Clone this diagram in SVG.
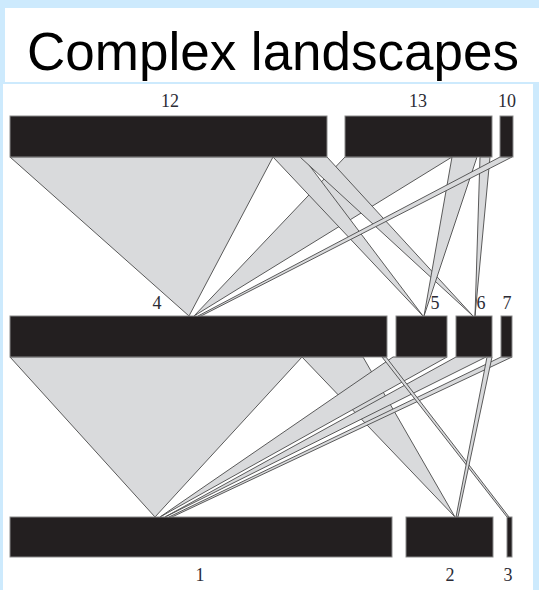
<svg xmlns="http://www.w3.org/2000/svg" width="539" height="590" viewBox="0 0 539 590">
<style>
.bar{fill:#231f20;stroke:#8a8a8a;stroke-width:1}
.fan{fill:#d9dadc;stroke:#4a4a4a;stroke-width:0.9;stroke-linejoin:miter}
.lbl{font-family:"Liberation Serif","Times New Roman",serif;font-size:18px;fill:#2b2b35;text-anchor:middle}
.title{font-family:"Liberation Sans",Arial,sans-serif;font-size:53px;fill:#000}
</style>
<rect x="0" y="0" width="539" height="590" fill="#cdeafd"/>
<rect x="5" y="8" width="534" height="74" fill="#fff"/>
<rect x="3" y="84" width="530" height="506" fill="#fff"/>
<text class="title" x="27" y="70">Complex landscapes</text>
<g id="connectors">
<polygon class="fan" points="10,157 273,157 189,316"/>
<polygon class="fan" points="345,157 452,157 194,316"/>
<polygon class="fan" points="273,157 303,157 423,316"/>
<polygon class="fan" points="300,157 327,157 473,316"/>
<polygon class="fan" points="452,157 477,157 424,316"/>
<polygon class="fan" points="480,157 490,157 475,316"/>
<polygon class="fan" points="500,157 512,157 201,316 198,316"/>
<polygon class="fan" points="10,357 302,357 155,517"/>
<polygon class="fan" points="302,357 363,357 455,517"/>
<polygon class="fan" points="393,357 447,357 160,517"/>
<polygon class="fan" points="456,357 486,357 165,517"/>
<polygon class="fan" points="501,357 512,357 172,517 169,517"/>
<polygon class="fan" points="382,357 386,357 509,517 507,517"/>
<polygon class="fan" points="487,357 492,357 458,517 456,517"/>
</g>
<g id="n12"><rect class="bar" x="10" y="116" width="317" height="41"/><text class="lbl" x="170" y="107">12</text></g>
<g id="n13"><rect class="bar" x="345" y="116" width="147" height="41"/><text class="lbl" x="418" y="107">13</text></g>
<g id="n10"><rect class="bar" x="500" y="116" width="13" height="41"/><text class="lbl" x="507" y="107">10</text></g>
<g id="n4"><rect class="bar" x="10" y="316" width="377" height="41"/><text class="lbl" x="157" y="309">4</text></g>
<g id="n5"><rect class="bar" x="396" y="316" width="51" height="41"/><text class="lbl" x="435" y="309">5</text></g>
<g id="n6"><rect class="bar" x="456" y="316" width="36" height="41"/><text class="lbl" x="481" y="309">6</text></g>
<g id="n7"><rect class="bar" x="501" y="316" width="11" height="41"/><text class="lbl" x="507" y="309">7</text></g>
<g id="n1"><rect class="bar" x="10" y="517" width="382" height="40"/><text class="lbl" x="200" y="581">1</text></g>
<g id="n2"><rect class="bar" x="406" y="517" width="87" height="40"/><text class="lbl" x="450" y="581">2</text></g>
<g id="n3"><rect class="bar" x="507" y="517" width="5" height="40"/><text class="lbl" x="508" y="581">3</text></g>
</svg>
